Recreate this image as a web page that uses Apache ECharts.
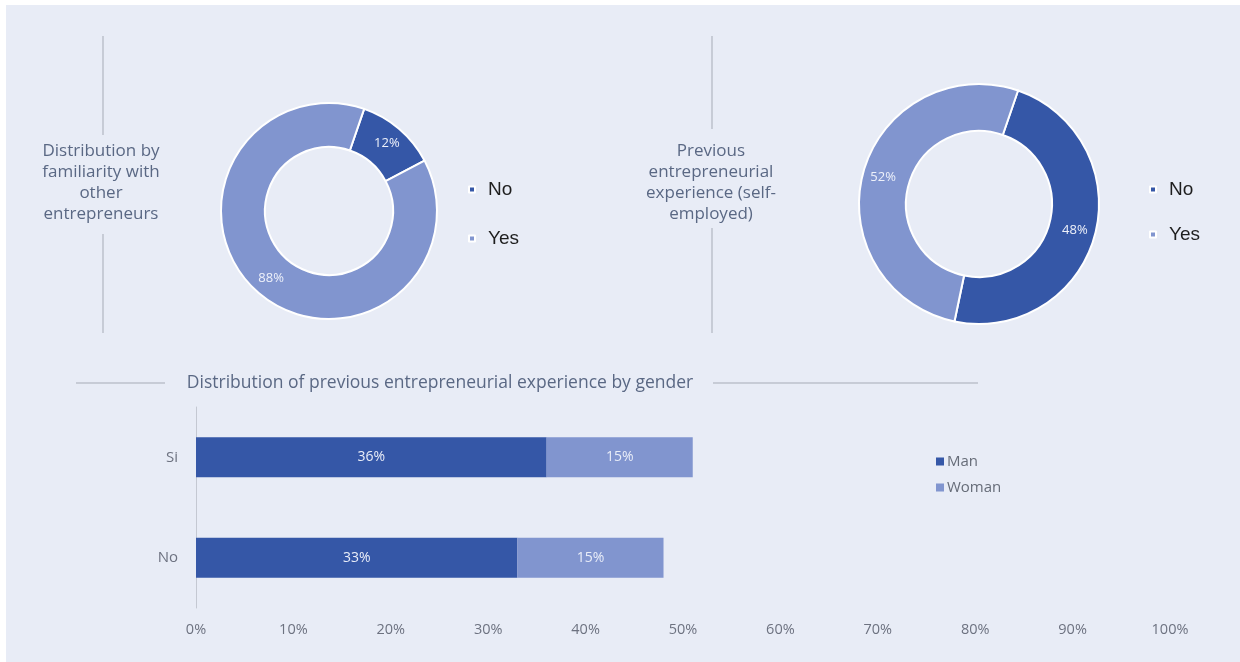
<!DOCTYPE html>
<html>
<head>
<meta charset="utf-8">
<script src="https://cdn.jsdelivr.net/npm/echarts@6/dist/echarts.min.js"></script>
<style>
  html, body { margin: 0; padding: 0; background: #e8ecf6; overflow: hidden; }
  #chart { position: absolute; left: 0; top: 0; width: 1240px; height: 662px; }
  .edge { position: absolute; background: #ffffff; z-index: 2; }
</style>
</head>
<body>
<div id="chart"></div>
<div class="edge" style="left:0;top:0;width:1240px;height:5px;"></div>
<div class="edge" style="left:0;top:0;width:6px;height:662px;"></div>
<script>
// Donut 1: familiarity with other entrepreneurs
const familiarityNames = ['No', 'Yes'];
const familiarityValues = [12, 88];

// Donut 2: previous entrepreneurial experience (self-employed)
const experienceNames = ['No', 'Yes'];
const experienceValues = [48, 52];

// Stacked bars: previous experience by gender
const genderCategories = ['Si', 'No'];
const manValues = [36, 33];
const womanValues = [15, 15];
const xTicks = [0, 10, 20, 30, 40, 50, 60, 70, 80, 90, 100];

const DARK = '#3557a7';
const LIGHT = '#8195cf';
const BG = '#e8ecf6';
const TEXT = '#5a6884';
const FONT = '"Open Sans", Lato, sans-serif';

const chart = echarts.init(document.getElementById('chart'));

function pie(names, values, cx, cy, rIn, rOut) {
  return {
    type: 'pie',
    center: [cx, cy],
    radius: [rIn, rOut],
    startAngle: 71,
    clockwise: true,
    avoidLabelOverlap: false,
    itemStyle: { borderColor: '#ffffff', borderWidth: 2 },
    label: {
      show: true,
      position: 'inside',
      formatter: '{c}%',
      color: '#eef1fa',
      fontSize: 13,
      fontFamily: FONT
    },
    labelLine: { show: false },
    emphasis: { scale: false },
    data: names.map((n, i) => ({
      name: n,
      value: values[i],
      itemStyle: { color: i === 0 ? DARK : LIGHT }
    }))
  };
}

function line(x1, y1, x2, y2) {
  return {
    type: 'line',
    shape: { x1: x1, y1: y1, x2: x2, y2: y2 },
    style: { stroke: '#a6abb6', lineWidth: 1 }
  };
}

function block(text, cx, cy) {
  return {
    type: 'text',
    x: cx,
    y: cy,
    style: {
      text: text,
      fill: TEXT,
      font: '17px ' + FONT,
      align: 'center',
      verticalAlign: 'middle',
      lineHeight: 21
    }
  };
}

const legendText = { fontSize: 19, color: '#1e1e1e', fontFamily: '"Liberation Sans", Arial, sans-serif', padding: [0, 0, 0, 8] };

const option = {
  backgroundColor: BG,
  animation: false,
  legend: [
    {
      data: familiarityNames,
      orient: 'vertical',
      left: 463,
      top: 175,
      itemWidth: 6,
      itemHeight: 6,
      itemGap: 30,
      icon: 'rect',
      textStyle: legendText
    },
    {
      data: experienceNames,
      orient: 'vertical',
      left: 1144,
      top: 175,
      itemWidth: 6,
      itemHeight: 6,
      itemGap: 26,
      icon: 'rect',
      textStyle: legendText
    },
    {
      data: ['Man', 'Woman'],
      orient: 'vertical',
      left: 931,
      top: 449,
      itemWidth: 8,
      itemHeight: 8,
      itemGap: 11,
      icon: 'rect',
      textStyle: { fontSize: 15, color: '#666c78', fontFamily: FONT, padding: [0, 0, 0, -2] }
    }
  ],
  grid: {
    left: 196,
    right: 70,
    top: 407,
    bottom: 662 - 608
  },
  xAxis: {
    type: 'value',
    min: 0,
    max: 100,
    interval: 10,
    axisLine: { show: false },
    axisTick: { show: false },
    splitLine: { show: false },
    axisLabel: {
      margin: 14,
      color: '#6d7280',
      fontSize: 14.5,
      fontFamily: FONT,
      formatter: v => (xTicks.indexOf(v) >= 0 ? v + '%' : '')
    }
  },
  yAxis: {
    type: 'category',
    data: genderCategories,
    inverse: true,
    axisLine: { show: true, lineStyle: { color: '#c4c8d2', width: 1 } },
    axisTick: { show: false },
    axisLabel: { margin: 18, color: '#6d7280', fontSize: 15, fontFamily: FONT }
  },
  graphic: [
    line(103, 36, 103, 135),
    line(103, 234, 103, 333),
    line(712, 36, 712, 129),
    line(712, 228, 712, 333),
    line(76, 383, 165, 383),
    line(713, 383, 978, 383),
    block('Distribution by\nfamiliarity with\nother\nentrepreneurs', 101, 183),
    block('Previous\nentrepreneurial\nexperience (self-\nemployed)', 711, 183),
    {
      type: 'text',
      x: 440,
      y: 383,
      style: {
        text: 'Distribution of previous entrepreneurial experience by gender',
        fill: TEXT,
        font: '17.5px ' + FONT,
        align: 'center',
        verticalAlign: 'middle'
      }
    }
  ],
  series: [
    pie(familiarityNames, familiarityValues, 329, 211, 64, 108),
    pie(experienceNames, experienceValues, 979, 204, 73, 120),
    {
      name: 'Man',
      type: 'bar',
      stack: 'g',
      barWidth: 40,
      data: manValues,
      itemStyle: { color: DARK },
      label: { show: true, position: 'inside', formatter: '{c}%', color: '#e9edf8', fontSize: 14, fontFamily: FONT }
    },
    {
      name: 'Woman',
      type: 'bar',
      stack: 'g',
      barWidth: 40,
      data: womanValues,
      itemStyle: { color: LIGHT },
      label: { show: true, position: 'inside', formatter: '{c}%', color: '#e9edf8', fontSize: 14, fontFamily: FONT }
    }
  ]
};

chart.setOption(option);
</script>
</body>
</html>
